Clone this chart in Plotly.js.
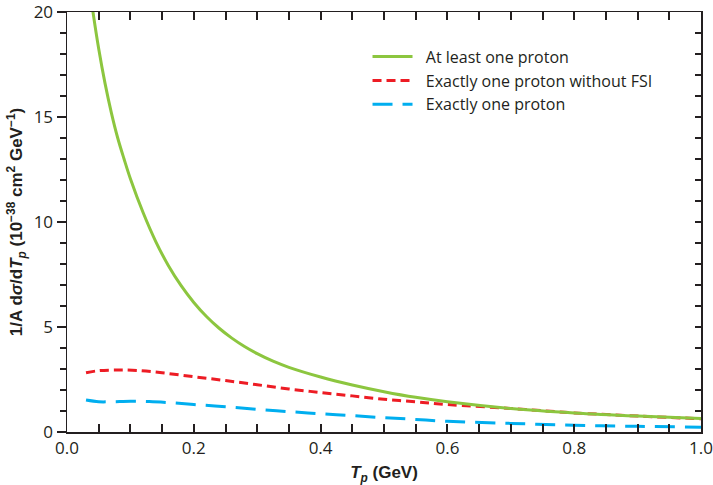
<!DOCTYPE html>
<html>
<head>
<meta charset="utf-8">
<script src="https://cdn.plot.ly/plotly-3.0.1.min.js"></script>
<style>html,body{margin:0;padding:0;background:#fff;}#chart{width:713px;height:485px;}</style>
</head>
<body>
<div id="chart"></div>
<script>
// At least one proton
const greenT = [0.03, 0.04, 0.05, 0.06, 0.07, 0.08, 0.09, 0.10, 0.12, 0.14, 0.16, 0.18, 0.20, 0.22, 0.24, 0.26, 0.28, 0.30, 0.325, 0.35, 0.40, 0.45, 0.50, 0.55, 0.60, 0.70, 0.80, 0.90, 1.00];
const greenV = [22.4, 20.2, 18.25, 16.6, 15.2, 14.0, 13.0, 12.06, 10.45, 9.07, 7.92, 6.97, 6.17, 5.50, 4.94, 4.47, 4.07, 3.73, 3.37, 3.08, 2.62, 2.24, 1.92, 1.65, 1.44, 1.12, 0.91, 0.76, 0.643];
// Exactly one proton without FSI
const redT = [0.03, 0.05, 0.08, 0.11, 0.15, 0.20, 0.25, 0.30, 0.35, 0.40, 0.45, 0.50, 0.55, 0.60, 0.70, 0.80, 0.90, 1.00];
const redV = [2.82, 2.92, 2.95, 2.93, 2.82, 2.63, 2.45, 2.25, 2.05, 1.88, 1.72, 1.56, 1.44, 1.31, 1.12, 0.91, 0.76, 0.63];
// Exactly one proton
const blueT = [0.03, 0.05, 0.07, 0.10, 0.13, 0.16, 0.20, 0.25, 0.30, 0.35, 0.40, 0.45, 0.50, 0.55, 0.60, 0.70, 0.80, 0.90, 1.00];
const blueV = [1.52, 1.44, 1.44, 1.46, 1.45, 1.40, 1.31, 1.20, 1.08, 0.97, 0.87, 0.78, 0.68, 0.60, 0.51, 0.41, 0.32, 0.27, 0.23];

const seriesNames = ['At least one proton', 'Exactly one proton without FSI', 'Exactly one proton'];

const ink = '#231f20';
const fontFam = 'Liberation Sans, Arial, sans-serif';
const lightFam = 'Open Sans, Noto Sans, sans-serif';
const pad = '&nbsp;&nbsp;';

const traces = [
  {x: greenT, y: greenV, name: pad + seriesNames[0], mode: 'lines', yaxis: 'y2', line: {color: '#8cc63f', width: 3, shape: 'spline'}},
  {x: redT, y: redV, name: pad + seriesNames[1], mode: 'lines', line: {color: '#ed1c24', width: 3, dash: '9px,5px', shape: 'spline'}},
  {x: blueT, y: blueV, name: pad + seriesNames[2], mode: 'lines', line: {color: '#00aeef', width: 3, dash: '20px,10px', shape: 'spline'}}
];

const layout = {
  width: 713, height: 485,
  margin: {l: 67, r: 12, t: 12, b: 53},
  paper_bgcolor: '#fff', plot_bgcolor: '#fff',
  font: {family: fontFam, color: ink, size: 17},
  showlegend: true,
  legend: {x: 0.474, y: 0.934, xanchor: 'left', yanchor: 'top', bgcolor: 'rgba(0,0,0,0)',
           font: {size: 16, color: ink, family: lightFam}, itemwidth: 40, tracegroupgap: 0,
           traceorder: 'normal'},
  xaxis: {
    range: [0, 1], tickmode: 'linear', tick0: 0, dtick: 0.2, tickformat: '.1f',
    showline: true, linecolor: ink, linewidth: 1.5, mirror: 'allticks',
    ticks: 'inside', ticklen: 8, tickwidth: 2, tickcolor: ink,
    minor: {tickmode: 'linear', tick0: 0, dtick: 0.05, ticks: 'inside', ticklen: 5, tickwidth: 2, tickcolor: ink, showgrid: false},
    showgrid: false, zeroline: false, ticklabeloverflow: 'allow',
    tickfont: {size: 17, color: ink, family: lightFam},
    title: {text: '<b><i>T<sub>p</sub></i> (GeV)</b>', font: {size: 17, color: ink}, standoff: 8}
  },
  yaxis: {
    range: [0, 20], tickmode: 'linear', tick0: 0, dtick: 5,
    showline: true, linecolor: ink, linewidth: 1.5, mirror: true,
    ticks: 'outside', ticklen: 9, tickwidth: 2, tickcolor: ink,
    minor: {tickmode: 'linear', tick0: 0, dtick: 1, ticks: 'outside', ticklen: 6, tickwidth: 2, tickcolor: ink, showgrid: false},
    showgrid: false, zeroline: false, ticklabeloverflow: 'allow',
    tickfont: {size: 17, color: ink, family: lightFam},
    title: {text: '<b>1/A d<i>σ</i>/d<i>T<sub>p</sub></i> (10<sup>−38</sup> cm<sup>2</sup> GeV<sup>−1</sup>)</b>', font: {size: 17, color: ink}, standoff: 6}
  },
  yaxis2: {
    range: [0, 20], overlaying: 'y', side: 'right', anchor: 'x',
    tickmode: 'linear', tick0: 0, dtick: 5, showticklabels: false,
    ticks: 'inside', ticklen: 6, tickwidth: 2, tickcolor: ink,
    minor: {tickmode: 'linear', tick0: 0, dtick: 1, ticks: 'inside', ticklen: 6, tickwidth: 2, tickcolor: ink, showgrid: false},
    showgrid: false, zeroline: false, showline: false
  }
};

Plotly.newPlot('chart', traces, layout, {displayModeBar: false, staticPlot: true});
</script>
</body>
</html>
